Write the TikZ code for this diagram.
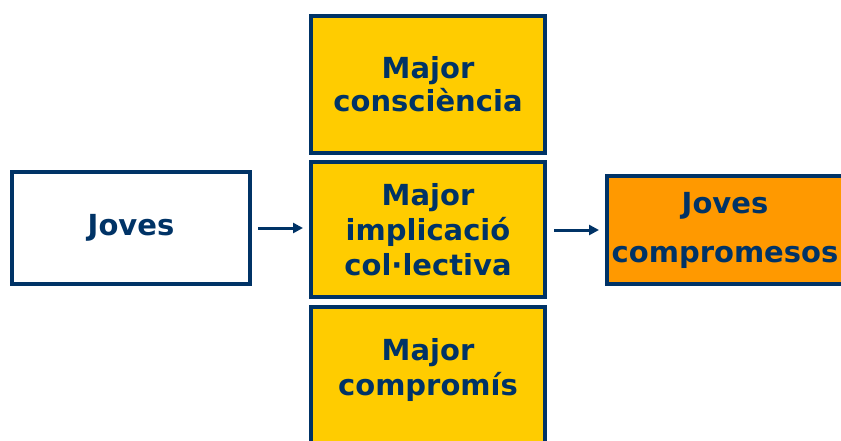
\documentclass[tikz,border=0pt]{standalone}
\usepackage{fontspec}
\setmainfont{DejaVu Sans}
\usetikzlibrary{arrows.meta}
\definecolor{navy}{RGB}{0,51,102}
\definecolor{groc}{RGB}{255,204,0}
\definecolor{taronja}{RGB}{255,153,0}
\begin{document}
\begin{tikzpicture}[x=1pt,y=-1pt,
        caixa/.style={draw=navy,line width=4pt,inner sep=0pt,align=center,text=navy,
            font=\fontsize{29}{35}\selectfont\bfseries},
        etiqueta/.style={inner sep=0pt,align=center,text=navy,font=\fontsize{29}{35}\selectfont\bfseries},
        fletxa/.style={navy,line width=3pt,-{Triangle[length=10pt,width=10pt]}}]
        \useasboundingbox (0,0) rectangle (841,440);
        \clip (0,0) rectangle (841,440);

        \node[caixa,fill=white,minimum width=238pt,minimum height=112pt] (joves) at (131,228) {Joves};

        \node[caixa,fill=groc,minimum width=234pt,minimum height=137pt,
            font=\fontsize{29}{33}\selectfont\bfseries] (dalt) at (428,84.5) {Major\\consciència};
        \node[caixa,fill=groc,minimum width=234pt,minimum height=135pt] (mig) at (428,229.5) {Major\\implicació\\col·lectiva};
        \node[caixa,fill=groc,minimum width=234pt,minimum height=137pt] (baix) at (428,375.5) {};
        \node[etiqueta] (baixtext) at (428,370) {Major\\compromís};

        \node[caixa,fill=taronja,minimum width=236pt,minimum height=108pt,
            font=\fontsize{29}{49}\selectfont\bfseries] (compr) at (725,230) {Joves\\compromesos};

        \draw[fletxa,shorten <=6pt,shorten >=6pt] (joves.east) -- (joves.east -| mig.west);
        \draw[fletxa,shorten <=7pt,shorten >=6pt] (mig.east |- compr.west) -- (compr.west);
\end{tikzpicture}
\end{document}
